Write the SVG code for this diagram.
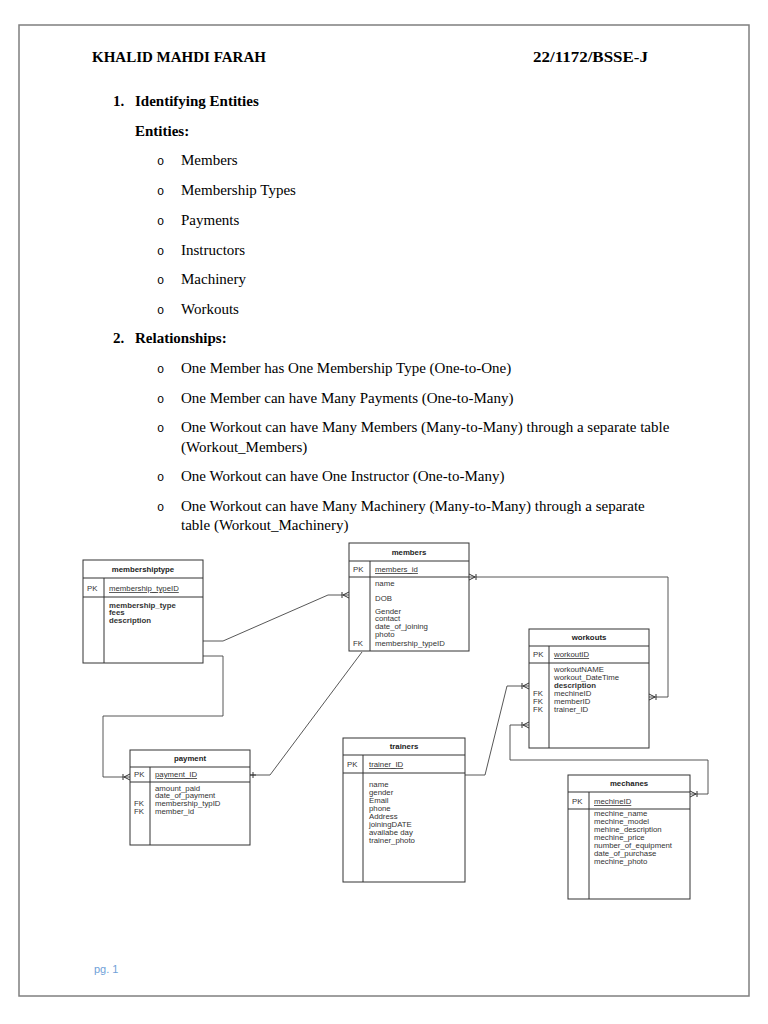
<svg xmlns="http://www.w3.org/2000/svg" width="768" height="1024" viewBox="0 0 768 1024">
<defs>
<style>
.doc{font-family:"Liberation Serif","Times New Roman",serif;font-size:15px;fill:#000}
.bu{font-family:"Liberation Mono","Courier New",monospace;font-size:12px;fill:#000}
.b{font-weight:bold}
.t{font-family:"Liberation Sans",Arial,sans-serif;font-size:7.8px;fill:#333}
.tt{font-family:"Liberation Sans",Arial,sans-serif;font-size:7.8px;fill:#222;font-weight:bold;text-anchor:middle}
.k{text-decoration:underline}
.box{fill:#fff;stroke:#333;stroke-width:1}
.ln{fill:none;stroke:#333;stroke-width:1}
.cn{fill:none;stroke:#444;stroke-width:0.9}
</style>
<marker id="crow" viewBox="0 0 10 10" refX="10" refY="5" markerWidth="10" markerHeight="10" markerUnits="userSpaceOnUse" orient="auto-start-reverse">
<path d="M4,5 L10,2 M4,5 L10,8 M3,2 L3,8" fill="none" stroke="#333" stroke-width="1"/>
</marker>
<marker id="bar" viewBox="0 0 10 10" refX="10" refY="5" markerWidth="10" markerHeight="10" markerUnits="userSpaceOnUse" orient="auto-start-reverse">
<path d="M7,2 L7,8 M4,5 L10,5" fill="none" stroke="#333" stroke-width="1"/>
</marker>
</defs>
<rect width="768" height="1024" fill="#fff"/>
<rect x="19" y="25" width="730" height="971" fill="none" stroke="#7f7f7f" stroke-width="1.5"/>

<g id="text">
<text class="doc b" x="92" y="62">KHALID MAHDI FARAH</text>
<text class="doc b" x="533" y="62" textLength="115" lengthAdjust="spacingAndGlyphs">22/1172/BSSE-J</text>
<text class="doc b" x="113" y="106">1.</text>
<text class="doc b" x="135" y="106">Identifying Entities</text>
<text class="doc b" x="135" y="136">Entities:</text>
<g>
<text class="bu" x="157" y="165">o</text><text class="doc" x="181" y="165">Members</text>
<text class="bu" x="157" y="195">o</text><text class="doc" x="181" y="195">Membership Types</text>
<text class="bu" x="157" y="225">o</text><text class="doc" x="181" y="225">Payments</text>
<text class="bu" x="157" y="255">o</text><text class="doc" x="181" y="255">Instructors</text>
<text class="bu" x="157" y="284">o</text><text class="doc" x="181" y="284">Machinery</text>
<text class="bu" x="157" y="314">o</text><text class="doc" x="181" y="314">Workouts</text>
</g>
<text class="doc b" x="113" y="343">2.</text>
<text class="doc b" x="135" y="343">Relationships:</text>
<g>
<text class="bu" x="157" y="373">o</text><text class="doc" x="181" y="373">One Member has One Membership Type (One-to-One)</text>
<text class="bu" x="157" y="403">o</text><text class="doc" x="181" y="403">One Member can have Many Payments (One-to-Many)</text>
<text class="bu" x="157" y="432">o</text><text class="doc" x="181" y="432">One Workout can have Many Members (Many-to-Many) through a separate table</text>
<text class="doc" x="181" y="452">(Workout_Members)</text>
<text class="bu" x="157" y="481">o</text><text class="doc" x="181" y="481">One Workout can have One Instructor (One-to-Many)</text>
<text class="bu" x="157" y="511">o</text><text class="doc" x="181" y="511">One Workout can have Many Machinery (Many-to-Many) through a separate</text>
<text class="doc" x="181" y="530">table (Workout_Machinery)</text>
</g>
<text x="94" y="973" font-family="Liberation Sans, Arial, sans-serif" font-size="11" fill="#6f9fd8">pg. 1</text>
</g>

<g id="connectors">
<path class="cn" d="M203,641 L223,641 L328,595 L349,595" marker-end="url(#crow)"/>
<path class="cn" d="M203,656 L223,656 L223,716 L103,716 L103,777 L130,777" marker-end="url(#crow)"/>
<path class="cn" d="M362,652 L270,775 L250,775" marker-end="url(#bar)"/>
<path class="cn" d="M469,577 L668,577 L668,697 L649,697" marker-start="url(#crow)" marker-end="url(#crow)"/>
<path class="cn" d="M465,775 L485,775 L507,686 L529,686" marker-end="url(#crow)"/>
<path class="cn" d="M529,725 L510,725 L510,760 L708,760 L708,794 L690,794" marker-start="url(#crow)" marker-end="url(#crow)"/>
</g>

<g id="membershiptype">
<rect class="box" x="83" y="560" width="120" height="103"/>
<path class="ln" d="M83,578 H203 M83,597 H203 M104,578 V663"/>
<text class="tt" x="143" y="572">membershiptype</text>
<text class="t" x="87" y="591">PK</text>
<text class="t k" x="109" y="591">membership_typeID</text>
<text class="t b" x="109" y="608">membership_type</text>
<text class="t b" x="109" y="615">fees</text>
<text class="t b" x="109" y="623">description</text>
</g>

<g id="members">
<rect class="box" x="349" y="543" width="120" height="108"/>
<path class="ln" d="M349,561 H469 M349,577 H469 M370,561 V651"/>
<text class="tt" x="409" y="555">members</text>
<text class="t" x="353" y="572">PK</text>
<text class="t k" x="375" y="572">members_id</text>
<text class="t" x="375" y="586">name</text>
<text class="t" x="375" y="601">DOB</text>
<text class="t" x="375" y="614">Gender</text>
<text class="t" x="375" y="621">contact</text>
<text class="t" x="375" y="629">date_of_joining</text>
<text class="t" x="375" y="637">photo</text>
<text class="t" x="353" y="646">FK</text>
<text class="t" x="375" y="646">membership_typeID</text>
</g>

<g id="workouts">
<rect class="box" x="529" y="629" width="120" height="119"/>
<path class="ln" d="M529,646 H649 M529,663 H649 M549,646 V748"/>
<text class="tt" x="589" y="640">workouts</text>
<text class="t" x="533" y="657">PK</text>
<text class="t k" x="554" y="657">workoutID</text>
<text class="t" x="554" y="672">workoutNAME</text>
<text class="t" x="554" y="680">workout_DateTime</text>
<text class="t b" x="554" y="688">description</text>
<text class="t" x="533" y="696">FK</text><text class="t" x="554" y="696">mechineID</text>
<text class="t" x="533" y="704">FK</text><text class="t" x="554" y="704">memberID</text>
<text class="t" x="533" y="712">FK</text><text class="t" x="554" y="712">trainer_ID</text>
</g>

<g id="payment">
<rect class="box" x="130" y="750" width="120" height="95"/>
<path class="ln" d="M130,767 H250 M130,782 H250 M150,767 V845"/>
<text class="tt" x="190" y="761">payment</text>
<text class="t" x="134" y="777">PK</text>
<text class="t k" x="155" y="777">payment_ID</text>
<text class="t" x="155" y="791">amount_paid</text>
<text class="t" x="155" y="798">date_of_payment</text>
<text class="t" x="134" y="806">FK</text><text class="t" x="155" y="806">membership_typID</text>
<text class="t" x="134" y="814">FK</text><text class="t" x="155" y="814">member_id</text>
</g>

<g id="trainers">
<rect class="box" x="343" y="738" width="122" height="144"/>
<path class="ln" d="M343,755 H465 M343,773 H465 M363,755 V882"/>
<text class="tt" x="404" y="749">trainers</text>
<text class="t" x="347" y="767">PK</text>
<text class="t k" x="369" y="767">trainer_ID</text>
<text class="t" x="369" y="787">name</text>
<text class="t" x="369" y="795">gender</text>
<text class="t" x="369" y="803">Email</text>
<text class="t" x="369" y="811">phone</text>
<text class="t" x="369" y="819">Address</text>
<text class="t" x="369" y="827">joiningDATE</text>
<text class="t" x="369" y="835">availabe day</text>
<text class="t" x="369" y="843">trainer_photo</text>
</g>

<g id="mechanes">
<rect class="box" x="568" y="775" width="122" height="124"/>
<path class="ln" d="M568,792 H690 M568,809 H690 M589,792 V899"/>
<text class="tt" x="629" y="786">mechanes</text>
<text class="t" x="572" y="804">PK</text>
<text class="t k" x="594" y="804">mechineID</text>
<text class="t" x="594" y="816">mechine_name</text>
<text class="t" x="594" y="824">mechine_model</text>
<text class="t" x="594" y="832">mehine_description</text>
<text class="t" x="594" y="840">mechine_price</text>
<text class="t" x="594" y="848">number_of_equipment</text>
<text class="t" x="594" y="856">date_of_purchase</text>
<text class="t" x="594" y="864">mechine_photo</text>
</g>
</svg>
